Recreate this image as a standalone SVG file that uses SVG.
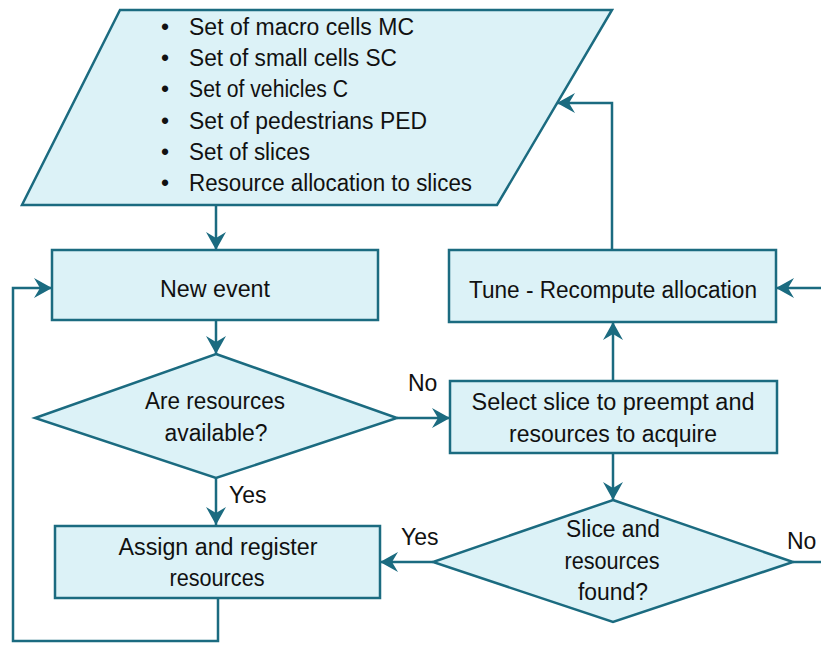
<svg xmlns="http://www.w3.org/2000/svg" width="821" height="646" viewBox="0 0 821 646">
  <style>
    .shape { fill: #dcf2f7; stroke: #1b6b80; stroke-width: 2.5; }
    .edge { fill: none; stroke: #1b6b80; stroke-width: 2.5; }
    text { font-family: "Liberation Sans", Arial, sans-serif; font-size: 23px; fill: #111; }
    .c { text-anchor: middle; }
  </style>
  <defs>
    <marker id="arrow" markerUnits="userSpaceOnUse" markerWidth="22" markerHeight="22" viewBox="-19 -11 22 22" refX="0" refY="0" orient="auto">
      <path d="M0,0 L-18,-10 L-12,0 L-18,10 Z" fill="#1b6b80"/>
    </marker>
  </defs>

  <rect width="821" height="646" fill="#ffffff"/>

  <!-- connectors -->
  <g id="connectors">
    <path class="edge" d="M216,205 V250" marker-end="url(#arrow)"/>
    <path class="edge" d="M216,320 V354" marker-end="url(#arrow)"/>
    <path class="edge" d="M216,478 V525" marker-end="url(#arrow)"/>
    <path class="edge" d="M397,418 H450" marker-end="url(#arrow)"/>
    <path class="edge" d="M218,598 V641 H13 V288 H52" marker-end="url(#arrow)"/>
    <path class="edge" d="M612,250 V103 H557" marker-end="url(#arrow)"/>
    <path class="edge" d="M821,288 H776" marker-end="url(#arrow)"/>
    <path class="edge" d="M613,381 V322" marker-end="url(#arrow)"/>
    <path class="edge" d="M613,453 V500" marker-end="url(#arrow)"/>
    <path class="edge" d="M433,562 H380" marker-end="url(#arrow)"/>
    <path class="edge" d="M793,562 H821"/>
    <text x="408" y="391">No</text>
    <text x="229" y="503">Yes</text>
    <text x="401" y="545">Yes</text>
    <text x="787" y="549">No</text>
  </g>

  <!-- input data -->
  <g id="inputs">
    <polygon class="shape" points="120,10 612,10 497,205 22,205"/>
    <text x="161" y="35">•</text><text x="189" y="35" textLength="225" lengthAdjust="spacingAndGlyphs">Set of macro cells MC</text>
    <text x="161" y="66">•</text><text x="189" y="66" textLength="208" lengthAdjust="spacingAndGlyphs">Set of small cells SC</text>
    <text x="161" y="97">•</text><text x="189" y="97" textLength="159" lengthAdjust="spacingAndGlyphs">Set of vehicles C</text>
    <text x="161" y="129">•</text><text x="189" y="129" textLength="238" lengthAdjust="spacingAndGlyphs">Set of pedestrians PED</text>
    <text x="161" y="160">•</text><text x="189" y="160" textLength="121" lengthAdjust="spacingAndGlyphs">Set of slices</text>
    <text x="161" y="191">•</text><text x="189" y="191" textLength="283" lengthAdjust="spacingAndGlyphs">Resource allocation to slices</text>
  </g>

  <g id="new-event">
    <rect class="shape" x="52" y="250" width="326" height="70"/>
    <text class="c" x="215" y="297" textLength="110" lengthAdjust="spacingAndGlyphs">New event</text>
  </g>

  <g id="resources-available">
    <polygon class="shape" points="216,354 397,418 216,478 35,418"/>
    <text class="c" x="215" y="409" textLength="140" lengthAdjust="spacingAndGlyphs">Are resources</text>
    <text class="c" x="216" y="441" textLength="103" lengthAdjust="spacingAndGlyphs">available?</text>
  </g>

  <g id="assign">
    <rect class="shape" x="55" y="526" width="325" height="72"/>
    <text class="c" x="218" y="555" textLength="199" lengthAdjust="spacingAndGlyphs">Assign and register</text>
    <text class="c" x="217" y="586" textLength="95" lengthAdjust="spacingAndGlyphs">resources</text>
  </g>

  <g id="tune">
    <rect class="shape" x="449" y="250" width="327" height="72"/>
    <text class="c" x="613" y="298" textLength="288" lengthAdjust="spacingAndGlyphs">Tune - Recompute allocation</text>
  </g>

  <g id="select-slice">
    <rect class="shape" x="450" y="381" width="327" height="72"/>
    <text class="c" x="613" y="410" textLength="283" lengthAdjust="spacingAndGlyphs">Select slice to preempt and</text>
    <text class="c" x="613" y="442" textLength="208" lengthAdjust="spacingAndGlyphs">resources to acquire</text>
  </g>

  <g id="slice-found">
    <polygon class="shape" points="613,500 793,562 613,622 433,562"/>
    <text class="c" x="613" y="537" textLength="94" lengthAdjust="spacingAndGlyphs">Slice and</text>
    <text class="c" x="612" y="569" textLength="95" lengthAdjust="spacingAndGlyphs">resources</text>
    <text class="c" x="613" y="600" textLength="70" lengthAdjust="spacingAndGlyphs">found?</text>
  </g>
</svg>
